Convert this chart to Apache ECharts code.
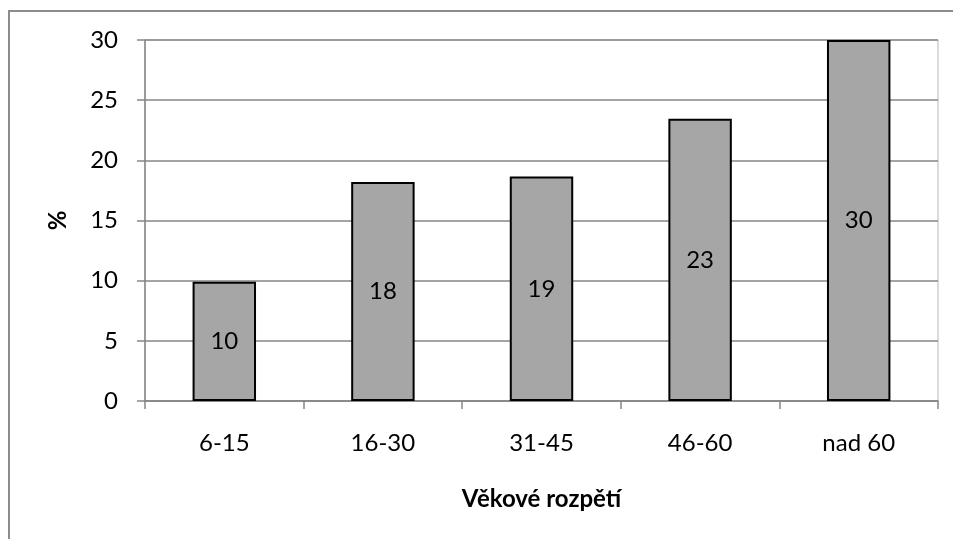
<!DOCTYPE html>
<html><head><meta charset="utf-8">
<script src="https://cdn.jsdelivr.net/npm/echarts@6/dist/echarts.min.js"></script>
<style>
html,body{margin:0;padding:0;background:#fff;}
#frame{position:absolute;left:8px;top:10px;width:960px;height:600px;border-left:2px solid #8c8c8c;border-top:2px solid #8c8c8c;box-sizing:border-box;}
#c{position:absolute;left:0;top:0;width:953px;height:539px;}
</style></head>
<body>
<div id="frame"></div>
<div id="c"></div>
<script>
var categories = ['6-15', '16-30', '31-45', '46-60', 'nad 60'];
var values = [9.9, 18.2, 18.65, 23.45, 30];
var yTicks = [0, 5, 10, 15, 20, 25, 30];
var xTitle = 'Věkové rozpětí';
var yTitle = '%';

var FONT = 'Lato, Carlito, Calibri, sans-serif';
var FS = 24;
var chart = echarts.init(document.getElementById('c'), null, {renderer: 'canvas'});
chart.setOption({
  backgroundColor: 'transparent',
  animation: false,
  grid: {left: 145, right: 15, top: 40, bottom: 138, show: true, borderColor: '#b8b8b8', borderWidth: 1},
  xAxis: {
    type: 'category',
    data: categories,
    name: xTitle,
    nameLocation: 'middle',
    nameGap: 86,
    nameTextStyle: {fontFamily: FONT, fontSize: FS, fontWeight: 'bold', color: '#000'},
    axisLine: {lineStyle: {color: '#868686', width: 1.5}},
    axisTick: {show: true, length: 8, lineStyle: {color: '#868686', width: 1.5}},
    axisLabel: {fontFamily: FONT, fontSize: FS, color: '#000', margin: 30}
  },
  yAxis: {
    type: 'value',
    min: yTicks[0],
    max: yTicks[yTicks.length - 1],
    interval: yTicks[1] - yTicks[0],
    name: yTitle,
    nameLocation: 'middle',
    nameGap: 75,
    nameTextStyle: {fontFamily: FONT, fontSize: FS, fontWeight: 'bold', color: '#000'},
    axisLine: {show: true, lineStyle: {color: '#868686', width: 1.5}},
    axisTick: {show: true, length: 8, lineStyle: {color: '#868686', width: 1.5}},
    axisLabel: {fontFamily: FONT, fontSize: FS, color: '#000', margin: 27},
    splitLine: {show: true, lineStyle: {color: '#868686', width: 1.5}}
  },
  series: [{
    type: 'bar',
    data: values,
    barWidth: '40%',
    itemStyle: {color: '#a6a6a6', borderColor: '#000', borderWidth: 2},
    label: {
      show: true,
      position: 'inside',
      fontFamily: FONT,
      fontSize: FS,
      color: '#000',
      formatter: function (p) { return Math.round(p.value).toString(); }
    }
  }]
});
</script>
</body></html>
